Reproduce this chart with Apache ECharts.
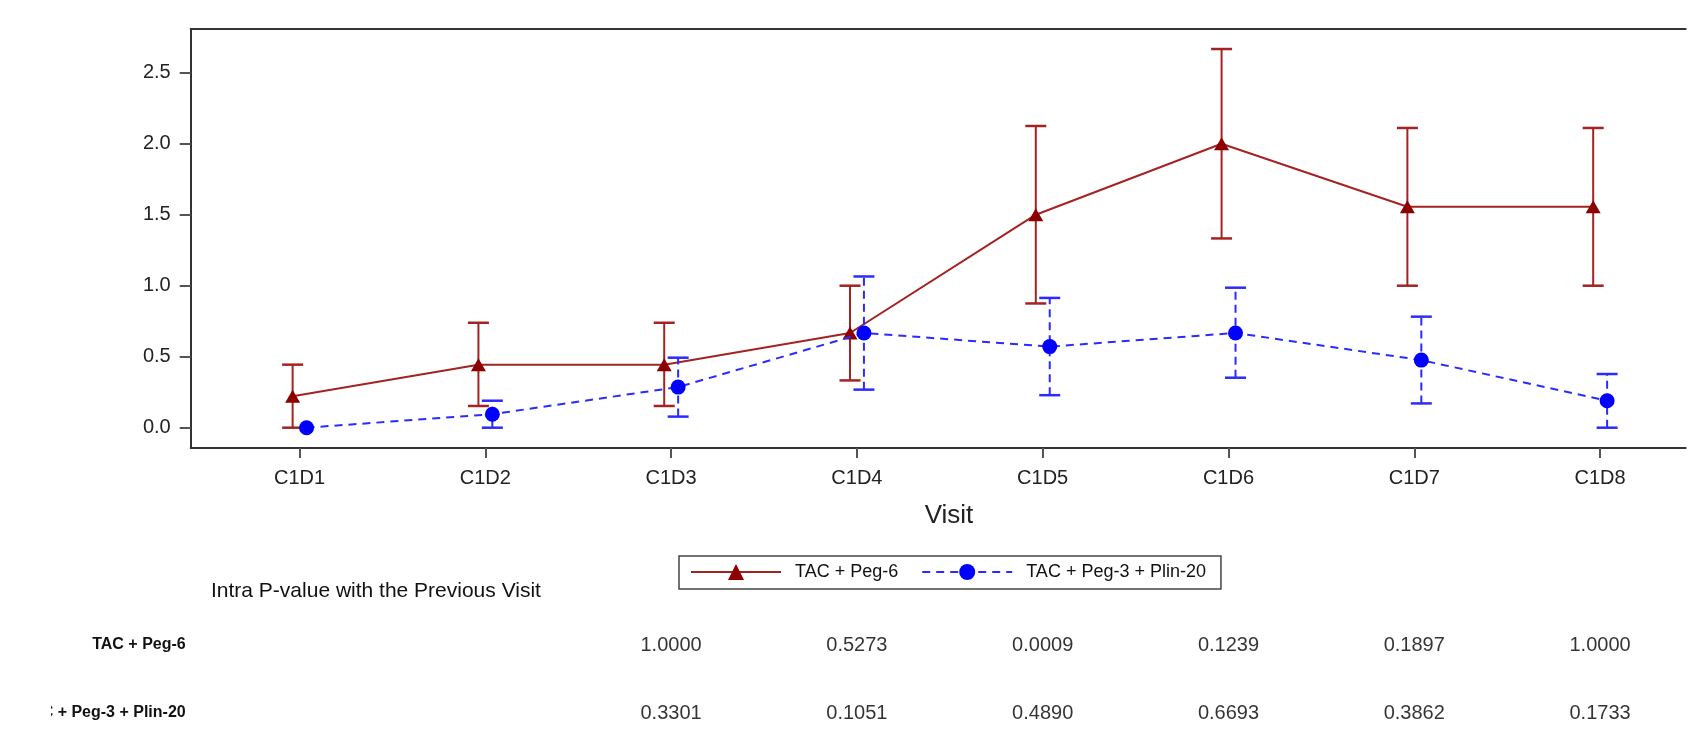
<!DOCTYPE html>
<html>
<head>
<meta charset="utf-8">
<script src="https://cdn.jsdelivr.net/npm/echarts@6/dist/echarts.min.js"></script>
<style>
html,body{margin:0;padding:0;background:#fff;}
#c{width:1698px;height:751px;}
</style>
</head>
<body>
<div id="c"></div>
<script>
// ---- data ----
const visits = ['C1D1','C1D2','C1D3','C1D4','C1D5','C1D6','C1D7','C1D8'];
const yTicks = [0, 0.5, 1.0, 1.5, 2.0, 2.5];
const pegName = 'TAC + Peg-6';
const plinName = 'TAC + Peg-3 + Plin-20';
const pegMean  = [0.222, 0.444, 0.444, 0.667, 1.500, 2.000, 1.556, 1.556];
const pegLower = [0.000, 0.153, 0.153, 0.333, 0.875, 1.333, 1.000, 1.000];
const pegUpper = [0.444, 0.739, 0.739, 1.000, 2.125, 2.667, 2.111, 2.111];
const plinMean  = [0.000, 0.095, 0.286, 0.667, 0.571, 0.667, 0.476, 0.190];
const plinLower = [0.000, 0.000, 0.078, 0.268, 0.229, 0.352, 0.171, 0.000];
const plinUpper = [0.000, 0.190, 0.493, 1.065, 0.914, 0.986, 0.782, 0.378];
const pVisits = ['C1D3','C1D4','C1D5','C1D6','C1D7','C1D8'];
const pegP  = ['1.0000','0.5273','0.0009','0.1239','0.1897','1.0000'];
const plinP = ['0.3301','0.1051','0.4890','0.6693','0.3862','0.1733'];
const tableTitle = 'Intra P-value with the Previous Visit';
const xTitle = 'Visit';

// ---- styling / layout ----
const FONT = '"Liberation Sans", Arial, sans-serif';
const RED_LINE = '#a52222', RED_MARK = '#8b0000';
const BLUE_LINE = '#2b2bff', BLUE_MARK = '#0000ff';
const PEG_OFF = -0.037, PLIN_OFF = 0.038;
const XMIN = -0.5856, XMAX = 7.461;
const YMIN = -0.143, YMAX = 2.808;
const idx = visits.map((v, i) => i);

function errRender(color, dashed) {
  return function (params, api) {
    const x = api.value(0), lo = api.value(1), hi = api.value(2);
    if (hi - lo < 1e-9) return null;
    const a = api.coord([x, lo]), b = api.coord([x, hi]);
    const hw = 10.5;
    return {
      type: 'group',
      children: [
        {type: 'line', shape: {x1: a[0], y1: a[1], x2: b[0], y2: b[1]},
         style: {stroke: color, lineWidth: 2, lineDash: dashed ? [8, 5] : null}},
        {type: 'line', shape: {x1: a[0] - hw, y1: a[1], x2: a[0] + hw, y2: a[1]},
         style: {stroke: color, lineWidth: 2.5}},
        {type: 'line', shape: {x1: b[0] - hw, y1: b[1], x2: b[0] + hw, y2: b[1]},
         style: {stroke: color, lineWidth: 2.5}}
      ]
    };
  };
}

const chart = echarts.init(document.getElementById('c'), null, {renderer: 'canvas'});
const option = {
  backgroundColor: '#fff',
  animation: false,
  textStyle: {fontFamily: FONT},
  grid: [
    {left: 190.7, right: 12.3, top: 29, bottom: 303},
    {left: 190.7, right: 12.3, top: 611, height: 136}
  ],
  xAxis: [
    {
      type: 'value', gridIndex: 0, min: XMIN, max: XMAX, position: 'bottom',
      splitLine: {show: false},
      axisLine: {show: true, onZero: false, lineStyle: {color: '#333', width: 2}},
      axisTick: {show: true, customValues: idx, length: 10, lineStyle: {color: '#555', width: 2}},
      axisLabel: {show: true, customValues: idx, formatter: v => visits[Math.round(v)],
                  fontSize: 20, margin: 20, color: '#222', fontFamily: FONT}
    },
    {
      type: 'value', gridIndex: 0, min: XMIN, max: XMAX, position: 'top',
      splitLine: {show: false},
      axisLine: {show: true, onZero: false, lineStyle: {color: '#333', width: 2}},
      axisTick: {show: false}, axisLabel: {show: false}
    },
    {
      type: 'value', gridIndex: 1, min: XMIN, max: XMAX, show: false
    }
  ],
  yAxis: [
    {
      type: 'value', gridIndex: 0, min: YMIN, max: YMAX,
      splitLine: {show: false},
      axisLine: {show: true, onZero: false, lineStyle: {color: '#333', width: 2}},
      axisTick: {show: true, customValues: yTicks, length: 11, lineStyle: {color: '#555', width: 2}},
      axisLabel: {show: true, customValues: yTicks, formatter: v => v.toFixed(1),
                  fontSize: 20, margin: 20, color: '#222', fontFamily: FONT}
    },
    {
      type: 'category', gridIndex: 1, inverse: true, data: [pegName, plinName],
      axisLine: {show: false}, axisTick: {show: false}, splitLine: {show: false},
      axisLabel: {fontSize: 16, fontWeight: 'bold', color: '#111', margin: 5, fontFamily: FONT}
    }
  ],
  legend: {
    data: [pegName, plinName],
    left: 679, top: 556,
    orient: 'horizontal',
    itemWidth: 90, itemHeight: 20, itemGap: 23,
    padding: [7, 15, 8, 11],
    borderColor: '#444', borderWidth: 1.5,
    backgroundColor: '#fff',
    textStyle: {fontSize: 18, color: '#111', fontFamily: FONT, padding: [0, 0, 0, 9]}
  },
  graphic: [
    {type: 'text', x: 949, y: 516, silent: true,
     style: {text: xTitle, fontSize: 26, fontFamily: FONT, fill: '#222', align: 'center', verticalAlign: 'middle'}},
    {type: 'text', x: 211, y: 591, silent: true,
     style: {text: tableTitle, fontSize: 21, fontFamily: FONT, fill: '#111', align: 'left', verticalAlign: 'middle'}},
    // left edge of the table is cropped in the source image
    {type: 'rect', z: 100, silent: true, shape: {x: 0, y: 690, width: 51, height: 50}, style: {fill: '#fff'}}
  ],
  series: [
    {
      type: 'custom', name: pegName + ' err', xAxisIndex: 0, yAxisIndex: 0, silent: true,
      renderItem: errRender(RED_LINE, false),
      encode: {x: 0, y: [1, 2]},
      data: idx.map(i => [i + PEG_OFF, pegLower[i], pegUpper[i]]),
      z: 2
    },
    {
      type: 'line', name: pegName, xAxisIndex: 0, yAxisIndex: 0,
      data: idx.map(i => [i + PEG_OFF, pegMean[i]]),
      symbol: 'triangle', symbolSize: [15, 13],
      lineStyle: {color: RED_LINE, width: 2},
      itemStyle: {color: RED_MARK},
      z: 3
    },
    {
      type: 'custom', name: plinName + ' err', xAxisIndex: 0, yAxisIndex: 0, silent: true,
      renderItem: errRender(BLUE_LINE, true),
      encode: {x: 0, y: [1, 2]},
      data: idx.map(i => [i + PLIN_OFF, plinLower[i], plinUpper[i]]),
      z: 4
    },
    {
      type: 'line', name: plinName, xAxisIndex: 0, yAxisIndex: 0,
      data: idx.map(i => [i + PLIN_OFF, plinMean[i]]),
      symbol: 'circle', symbolSize: 15,
      lineStyle: {color: BLUE_LINE, width: 2, type: [8, 6]},
      itemStyle: {color: BLUE_MARK},
      z: 5
    },
    {
      type: 'scatter', name: 'pvalues', xAxisIndex: 2, yAxisIndex: 1, silent: true,
      symbol: 'circle', symbolSize: 1,
      itemStyle: {color: 'rgba(0,0,0,0)'},
      label: {show: true, position: 'inside', fontSize: 20, color: '#000', fontFamily: FONT,
              textBorderWidth: 0, textBorderColor: 'transparent',
              formatter: p => p.data[2]},
      data: pVisits.map((v, j) => [visits.indexOf(v), pegName, pegP[j]])
        .concat(pVisits.map((v, j) => [visits.indexOf(v), plinName, plinP[j]]))
    }
  ]
};
chart.setOption(option);
</script>
</body>
</html>
